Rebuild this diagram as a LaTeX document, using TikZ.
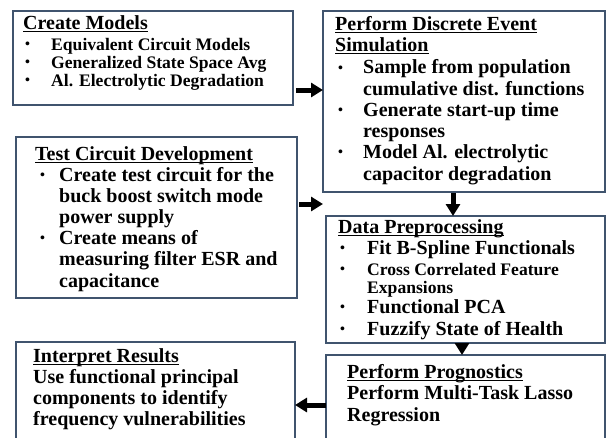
\documentclass[tikz,border=0pt]{standalone}
\usepackage{fontspec}
\setmainfont{Liberation Serif}
\usetikzlibrary{arrows.meta}
\definecolor{boxline}{RGB}{64,84,110}
% underline drawn just under the baseline, crossing descenders
\newcommand\ulw[1]{\setbox0\hbox{#1}\rlap{\rule[-2.8pt]{\wd0}{1.3pt}}\box0}
\tikzset{
  box/.style={draw=boxline, line width=2pt, inner sep=0pt, outer sep=0pt,
    anchor=north west, fill=white},
  head/.style={anchor=base west, inner sep=0pt, font=\bfseries\fontsize{20}{24}\selectfont},
  big/.style={anchor=base west, inner sep=0pt, font=\bfseries\fontsize{20}{24}\selectfont},
  small/.style={anchor=base west, inner sep=0pt, font=\bfseries\fontsize{17.6}{21}\selectfont},
  dot/.style={anchor=base west, inner sep=0pt, font=\bfseries\fontsize{14}{16}\selectfont, yshift=1.4pt},
  flow/.style={line width=5pt, -{Triangle[length=12pt,width=14pt]}},
}
\begin{document}
\begin{tikzpicture}[x=1pt,y=-1pt]
\useasboundingbox (0,0) rectangle (607,437);
\clip (0,0) rectangle (607,437);
\fill[white] (0,0) rectangle (607,437);

% boxes
\node[box, minimum width=280pt, minimum height=94pt]  (cm)  at (13,11)  {};
\node[box, minimum width=282pt, minimum height=181pt] (des) at (323,11) {};
\node[box, minimum width=281pt, minimum height=161pt] (tc)  at (16,137) {};
\node[box, minimum width=279pt, minimum height=127pt] (dp)  at (326,216) {};
\node[box, minimum width=279pt, minimum height=120pt] (pp)  at (326,355) {};
\node[box, minimum width=279pt, minimum height=135pt] (ir)  at (16,342) {};

% Create Models
\node[head]  (cm-t)  at (23,29) {\ulw{Create Models}};
\node[dot]   (cm-d1) at (25,50) {•};
\node[small] (cm-1)  at (51,50) {Equivalent Circuit Models};
\node[dot]   (cm-d2) at (25,68) {•};
\node[small] (cm-2)  at (51,68) {Generalized State Space Avg};
\node[dot]   (cm-d3) at (25,86) {•};
\node[small] (cm-3)  at (51,86) {Al. Electrolytic Degradation};

% Perform Discrete Event Simulation
\node[head] (des-t1) at (335,30)   {\ulw{Perform Discrete Event}};
\node[head] (des-t2) at (335,51.5) {\ulw{Simulation}};
\node[dot]  (des-d1) at (338,73.5) {•};
\node[big]  (des-1)  at (363,73.5) {Sample from population};
\node[big]  (des-2)  at (363,95)   {cumulative dist. functions};
\node[dot]  (des-d2) at (338,116)  {•};
\node[big]  (des-3)  at (363,116)  {Generate start-up time};
\node[big]  (des-4)  at (363,137)  {responses};
\node[dot]  (des-d3) at (338,158)  {•};
\node[big]  (des-5)  at (363,158)  {Model Al. electrolytic};
\node[big]  (des-6)  at (363,180)  {capacitor degradation};

% Test Circuit Development
\node[head] (tc-t)  at (35,160) {\ulw{Test Circuit Development}};
\node[dot]  (tc-d1) at (40,181) {•};
\node[big]  (tc-1)  at (59,181) {Create test circuit for the};
\node[big]  (tc-2)  at (59,202) {buck boost switch mode};
\node[big]  (tc-3)  at (59,223) {power supply};
\node[dot]  (tc-d2) at (40,244) {•};
\node[big]  (tc-4)  at (59,244) {Create means of};
\node[big]  (tc-5)  at (59,265) {measuring filter ESR and};
\node[big]  (tc-6)  at (59,287) {capacitance};

% Data Preprocessing
\node[head]  (dp-t)  at (338,233) {\ulw{Data Preprocessing}};
\node[dot]   (dp-d1) at (340,254) {•};
\node[big]   (dp-1)  at (367,254) {Fit B-Spline Functionals};
\node[dot]   (dp-d2) at (340,275) {•};
\node[small] (dp-2)  at (367,275) {Cross Correlated Feature};
\node[small] (dp-3)  at (367,293) {Expansions};
\node[dot]   (dp-d3) at (340,313) {•};
\node[big]   (dp-4)  at (367,313) {Functional PCA};
\node[dot]   (dp-d4) at (340,335) {•};
\node[big]   (dp-5)  at (367,335) {Fuzzify State of Health};

% Perform Prognostics
\node[head] (pp-t) at (347,378)   {\ulw{Perform Prognostics}};
\node[big]  (pp-1) at (347,399.5) {Perform Multi-Task Lasso};
\node[big]  (pp-2) at (347,421)   {Regression};

% Interpret Results
\node[head] (ir-t) at (33,362) {\ulw{Interpret Results}};
\node[big]  (ir-1) at (33,383) {Use functional principal};
\node[big]  (ir-2) at (33,404) {components to identify};
\node[big]  (ir-3) at (33,425) {frequency vulnerabilities};

% connectors
\coordinate (a1) at ([xshift=3pt,yshift=15pt]cm.south east);
\draw[flow] (a1) -- (a1 -| des.west);
\coordinate (a2) at ([xshift=2pt,yshift=-67pt]tc.north east);
\draw[flow] (a2) -- (a2 -| des.west);
\coordinate (a3) at ([xshift=130pt,yshift=-1pt]des.south west);
\draw[flow] (a3) -- (a3 |- dp.north);
\coordinate (a4) at ([xshift=-3.5pt]dp.south);
\draw[flow] (a4) -- (a4 |- pp.north);
\coordinate (a5) at ([yshift=-50pt]pp.north west);
\draw[flow] (a5) -- (a5 -| ir.east);
\end{tikzpicture}
\end{document}
